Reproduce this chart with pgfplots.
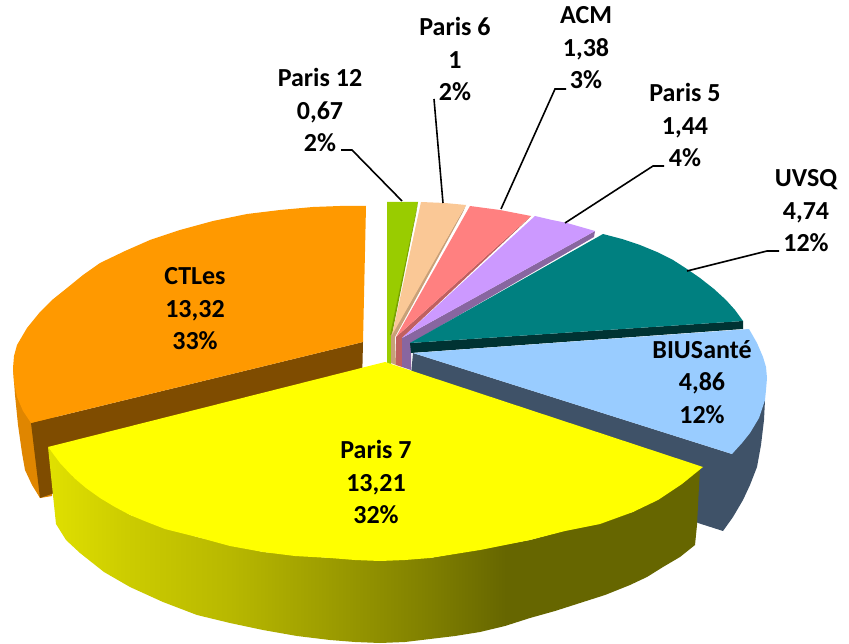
\documentclass[border=0pt]{standalone}
\usepackage{fontspec}
\setmainfont{Carlito}
\usepackage{pgfplots}
\pgfplotsset{compat=1.18}

\definecolor{orangetop}{RGB}{255,153,0}
\definecolor{orangeside}{RGB}{224,134,0}
\definecolor{orangecut}{RGB}{127,76,0}
\definecolor{greentop}{RGB}{153,204,0}
\definecolor{greenside}{RGB}{122,163,0}
\definecolor{peachtop}{RGB}{250,200,150}
\definecolor{peachside}{RGB}{200,160,120}
\definecolor{salmontop}{RGB}{255,128,128}
\definecolor{salmonside}{RGB}{192,96,96}
\definecolor{purpletop}{RGB}{204,153,255}
\definecolor{purpleside}{RGB}{136,102,160}
\definecolor{tealtop}{RGB}{0,128,128}
\definecolor{tealside}{RGB}{0,51,51}
\definecolor{bluetop}{RGB}{153,204,255}
\definecolor{blueside}{RGB}{63,82,104}
\definecolor{yellowtop}{RGB}{255,255,0}

% side wall of the Paris 7 slice, 25bp = left end, 75bp = right end
\pgfdeclarehorizontalshading{yellowside}{100bp}{
  color(0bp)=(yellow!88!black);
  color(25bp)=(yellow!88!black);
  color(31bp)=(yellow!80!black);
  color(39bp)=(yellow!72!black);
  color(46bp)=(yellow!62!black);
  color(54bp)=(yellow!50!black);
  color(60bp)=(yellow!40!black);
  color(100bp)=(yellow!40!black)}

\begin{document}
\begin{tikzpicture}
\useasboundingbox (0,0) rectangle (849pt,644pt);
\begin{axis}[
    scale only axis,
    width=849pt,
    height=644pt,
    xmin=0, xmax=849,
    ymin=0, ymax=644,
    y dir=reverse,
    hide axis,
    clip=false,
    no markers,
]

% CTLes
\addplot[fill=orangeside, draw=none] coordinates {
    (13,368) (15,395) (18,425) (22,453) (25,470) (32,485) (40,498) (52,496) (60,420)
} --cycle;
\addplot[fill=orangecut, draw=none] coordinates {
    (31,423) (363,342) (362,385) (40,498)
} --cycle;
\addplot[fill=orangetop, draw=none] coordinates {
    (366,206) (340,206) (313,207) (280,210) (247,214) (213,221) (180,230) (150,240)
    (125,251) (100,263) (83,275) (67,288) (52,300) (40,312) (27,328) (17,345)
    (14,356) (13,368) (14,382) (17,397) (23,411) (31,423) (363,342)
} --cycle;

% Paris 12
\addplot[fill=greentop, draw=none] coordinates {
    (387,202) (418,202) (391,335) (391,365) (387,363)
} --cycle;
\addplot[fill=greenside, draw=none] coordinates {
    (418,202) (416,214) (392,335) (390,335)
} --cycle;

% Paris 6
\addplot[fill=peachside, draw=none] coordinates {
    (466,205) (463,212) (395,337) (396,365) (391,363) (391,335)
} --cycle;
\addplot[fill=peachtop, draw=none] coordinates {
    (421,202) (445,203) (466,205) (392,335)
} --cycle;

% ACM
\addplot[fill=salmonside, draw=none] coordinates {
    (531,216) (525,222) (402,338) (402,367) (396,365) (396,337)
} --cycle;
\addplot[fill=salmontop, draw=none] coordinates {
    (470,206) (500,210) (531,216) (396,337)
} --cycle;

% Paris 5
\addplot[fill=purpleside, draw=none] coordinates {
    (595,231) (594,237) (411,343) (411,370) (402,367) (402,338)
} --cycle;
\addplot[fill=purpletop, draw=none] coordinates {
    (535,216) (552,220) (567,223) (595,231) (402,338)
} --cycle;

% UVSQ
\addplot[fill=tealside, draw=none] coordinates {
    (410,343) (743,321) (743,329) (411,353)
} --cycle;
\addplot[fill=tealtop, draw=none] coordinates {
    (603,234) (622,239) (640,245) (657,252) (673,260) (687,269) (700,278) (714,289) (726,300) (735,310) (743,321) (410,343)
} --cycle;

% BIUSante
\addplot[fill=blueside, draw=none] coordinates {
    (413,353) (411,375) (698,523) (723,531) (733,517) (743,500) (750,485) (757,467) (761,445) (764,420) (765,400) (732,454)
} --cycle;
\addplot[fill=bluetop, draw=none] coordinates {
    (413,353) (749,329) (757,343) (763,357) (766,367) (767,378) (766,390) (765,400) (759,418) (750,433) (742,443) (732,454)
} --cycle;

% Paris 7
\addplot[shading=yellowside, draw=none] coordinates {
    (48,447) (73,477) (130,515) (197,537) (263,552) (330,558) (430,558) (530,540)
    (633,512) (703,467) (700,467) (697,525) (695,545) (680,557) (663,567) (647,577) (630,585) (605,595) (580,603)
    (555,611) (530,618) (505,626) (480,632) (455,636) (430,639) (405,642) (380,643) (355,642) (330,640)
    (297,636) (263,630) (230,623) (197,615) (163,602) (130,587) (104,572) (80,553) (66,540) (56,524)
} --cycle;
\addplot[fill=yellowtop, draw=none] coordinates {
    (385,362) (48,447) (60,463) (73,477) (86,488) (100,498) (115,507) (130,515)
    (147,522) (165,529) (197,537) (230,546) (263,552) (295,556) (330,558) (355,560)
    (380,561) (405,560) (430,558) (455,554) (480,550) (505,545) (530,540) (565,531)
    (600,524) (633,512) (658,500) (682,484) (703,467)
} --cycle;

% leader lines
\addplot[black, line width=1.6pt] coordinates {(341,150) (352,150) (402,201)};
\addplot[black, line width=1.6pt] coordinates {(434,99) (443,203)};
\addplot[black, line width=1.6pt] coordinates {(566,89) (555,89) (501,209)};
\addplot[black, line width=1.6pt] coordinates {(664,166) (653,166) (565,223)};
\addplot[black, line width=1.6pt] coordinates {(779,251) (767,251) (687,271)};

% labels
\tikzset{lab/.style={align=center, font=\fontsize{26}{32.5}\selectfont\bfseries, inner sep=0pt}}
\node[lab] at (axis cs:320,110) {Paris 12\\0,67\\2\%};
\node[lab] at (axis cs:455,59) {Paris 6\\1\\2\%};
\node[lab] at (axis cs:586,48) {ACM\\1,38\\3\%};
\node[lab] at (axis cs:685,125) {Paris 5\\1,44\\4\%};
\node[lab] at (axis cs:806,211) {UVSQ\\4,74\\12\%};
\node[lab] at (axis cs:702,382) {BIUSanté\\4,86\\12\%};
\node[lab] at (axis cs:376,482) {Paris 7\\13,21\\32\%};
\node[lab] at (axis cs:195,309) {CTLes\\13,32\\33\%};

\end{axis}
\end{tikzpicture}
\end{document}
